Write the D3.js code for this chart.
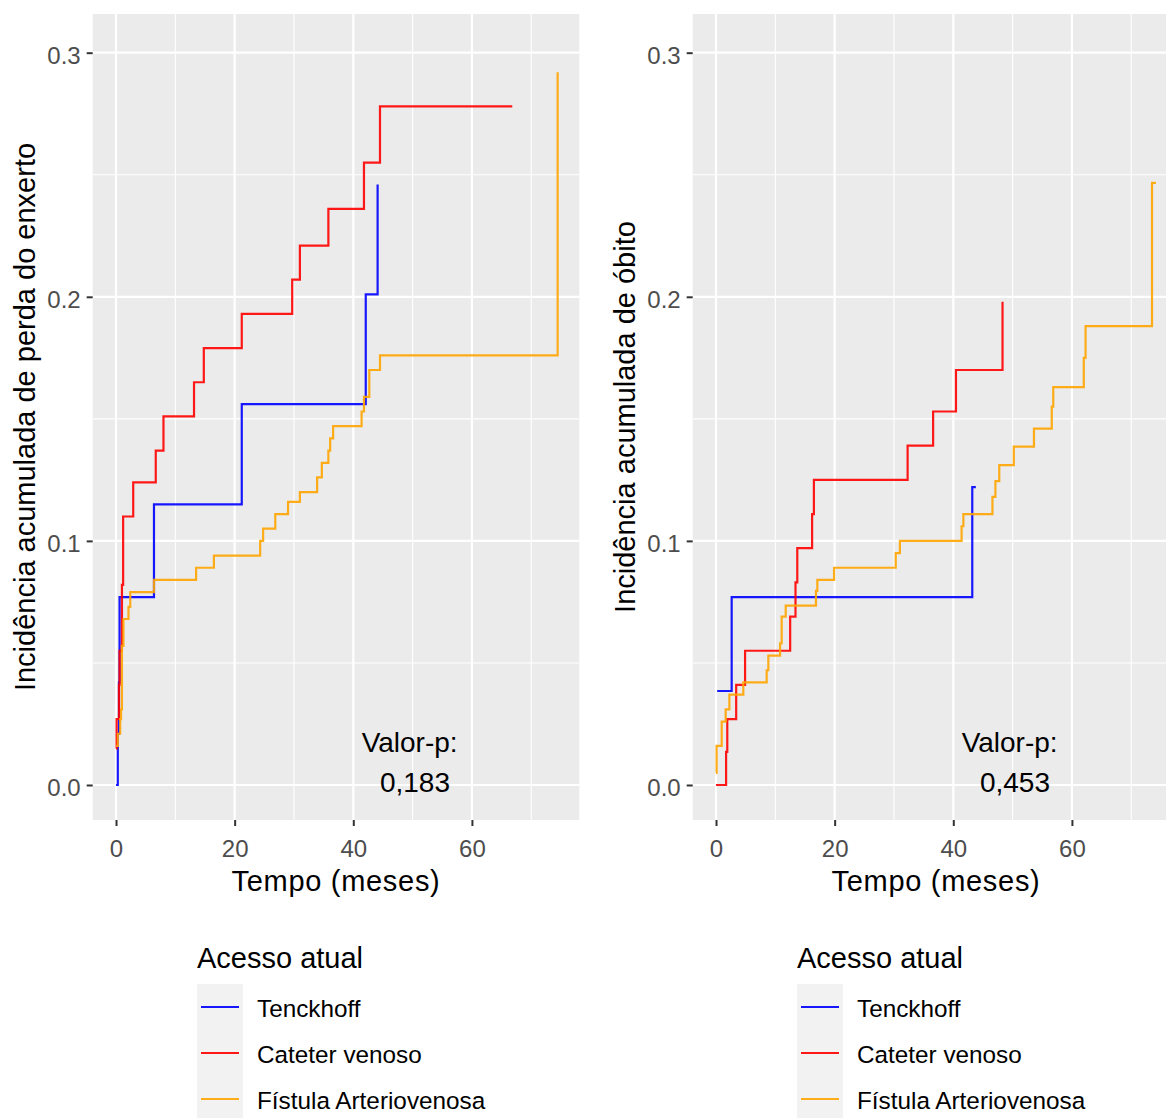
<!DOCTYPE html>
<html>
<head>
<meta charset="utf-8">
<script src="https://cdn.jsdelivr.net/npm/d3@7"></script>
<style>
  body { margin: 0; background: #ffffff; }
  svg { display: block; font-family: "Liberation Sans", Arial, Helvetica, sans-serif; }
</style>
</head>
<body>
<svg id="chart" width="1166" height="1118"></svg>
<script>
// ---- Data: cumulative incidence step curves by current access type ----
const accessGroups = ["Tenckhoff", "Cateter venoso", "Fístula Arteriovenosa"];

// Graft loss (months, cumulative incidence)
const lossTenckhoffTime  = [0, 0.3, 0.5, 0.6, 6.4, 21.2, 42.1, 44.1];
const lossTenckhoffValue = [0, 0.021, 0.042, 0.077, 0.115, 0.156, 0.201, 0.246];

const lossCateterTime  = [0, 0.1, 0.5, 0.6, 0.95, 1.0, 1.2, 2.9, 6.7, 8.0, 13.15, 14.8, 21.2, 29.7, 31.0, 35.8, 41.8, 44.5, 66.8];
const lossCateterValue = [0.015, 0.027, 0.041, 0.055, 0.057, 0.082, 0.110, 0.124, 0.137, 0.151, 0.165, 0.179, 0.193, 0.207, 0.221, 0.236, 0.255, 0.278, 0.278];

const lossFistulaTime  = [0, 0.3, 0.7, 0.85, 1.0, 1.25, 2.1, 2.4, 6.4, 13.5, 16.5, 24.3, 24.8, 26.85, 29.0, 31.0, 33.9, 34.7, 35.8, 36.1, 36.6, 41.4, 41.8, 42.7, 44.5, 74.45];
const lossFistulaValue = [0.016, 0.021, 0.027, 0.031, 0.057, 0.068, 0.073, 0.079, 0.084, 0.089, 0.094, 0.100, 0.105, 0.111, 0.116, 0.120, 0.126, 0.132, 0.137, 0.142, 0.147, 0.153, 0.159, 0.170, 0.176, 0.292];

// Death (months, cumulative incidence)
const deathTenckhoffTime  = [0.2, 2.64, 43.2, 43.8];
const deathTenckhoffValue = [0.0385, 0.077, 0.122, 0.122];

const deathCateterTime  = [0, 1.7, 1.9, 3.4, 4.9, 12.5, 13.4, 13.7, 16.2, 16.5, 32.3, 36.6, 40.45, 48.3];
const deathCateterValue = [0, 0.0136, 0.027, 0.041, 0.055, 0.069, 0.083, 0.097, 0.111, 0.125, 0.139, 0.153, 0.170, 0.198];

const deathFistulaTime  = [0, 0.1, 0.96, 1.63, 2.25, 4.6, 8.54, 8.82, 10.8, 11.07, 11.75, 16.85, 17.08, 19.9, 30.3, 31.0, 41.4, 41.7, 46.6, 47.1, 47.75, 50.2, 53.6, 56.6, 56.85, 62.0, 62.3, 73.5, 74.16];
const deathFistulaValue = [0.005, 0.016, 0.026, 0.031, 0.037, 0.042, 0.047, 0.053, 0.058, 0.069, 0.0735, 0.0795, 0.084, 0.089, 0.095, 0.100, 0.106, 0.111, 0.118, 0.1245, 0.131, 0.1386, 0.146, 0.155, 0.163, 0.175, 0.188, 0.2467, 0.2467];

const xTicks = [0, 20, 40, 60];
const xMinorTicks = [10, 30, 50, 70];
const yTicks = [0, 0.1, 0.2, 0.3];
const yTickLabels = ["0.0", "0.1", "0.2", "0.3"];
const yMinorTicks = [0.05, 0.15, 0.25];
const pValueLabels = ["0,183", "0,453"];

// ---- Styling ----
const groupColors = ["#0000FF", "#FF0000", "#FFA500"];
const TICK_FONT = 24, TITLE_FONT = 29, NOTE_FONT = 28, LEGEND_FONT = 24.3;

const svg = d3.select("#chart");

const pairs = (t, v) => t.map((d, i) => [d, v[i]]);

const panels = [
  {
    left: 92.7,
    yTitle: "Incidência acumulada de perda do enxerto",
    pValue: pValueLabels[0],
    series: [pairs(lossTenckhoffTime, lossTenckhoffValue),
             pairs(lossCateterTime, lossCateterValue),
             pairs(lossFistulaTime, lossFistulaValue)]
  },
  {
    left: 692.7,
    yTitle: "Incidência acumulada de óbito",
    pValue: pValueLabels[1],
    series: [pairs(deathTenckhoffTime, deathTenckhoffValue),
             pairs(deathCateterTime, deathCateterValue),
             pairs(deathFistulaTime, deathFistulaValue)]
  }
];

const panelWidth = 486.6, panelTop = 14, panelBottom = 820;

panels.forEach(p => {
  const x = d3.scaleLinear().domain([-3.93, 78.1]).range([p.left, p.left + panelWidth]);
  const y = d3.scaleLinear().domain([-0.01434, 0.31585]).range([panelBottom, panelTop]);
  const g = svg.append("g");

  // panel background
  g.append("rect")
    .attr("x", p.left).attr("y", panelTop)
    .attr("width", panelWidth).attr("height", panelBottom - panelTop)
    .attr("fill", "#EBEBEB");

  // minor grid
  g.selectAll(null).data(xMinorTicks).join("line")
    .attr("x1", d => x(d)).attr("x2", d => x(d))
    .attr("y1", panelTop).attr("y2", panelBottom)
    .attr("stroke", "#ffffff").attr("stroke-width", 1.1);
  g.selectAll(null).data(yMinorTicks).join("line")
    .attr("y1", d => y(d)).attr("y2", d => y(d))
    .attr("x1", p.left).attr("x2", p.left + panelWidth)
    .attr("stroke", "#ffffff").attr("stroke-width", 1.1);

  // major grid
  g.selectAll(null).data(xTicks).join("line")
    .attr("x1", d => x(d)).attr("x2", d => x(d))
    .attr("y1", panelTop).attr("y2", panelBottom)
    .attr("stroke", "#ffffff").attr("stroke-width", 2.2);
  g.selectAll(null).data(yTicks).join("line")
    .attr("y1", d => y(d)).attr("y2", d => y(d))
    .attr("x1", p.left).attr("x2", p.left + panelWidth)
    .attr("stroke", "#ffffff").attr("stroke-width", 2.2);

  // step curves
  const line = d3.line()
    .x(d => x(d[0])).y(d => y(d[1]))
    .curve(d3.curveStepAfter);
  p.series.forEach((s, i) => {
    g.append("path")
      .attr("d", line(s))
      .attr("fill", "none")
      .attr("stroke", groupColors[i])
      .attr("stroke-width", 2.2)
      .attr("stroke-opacity", 0.9);
  });

  // axes
  const xAxis = d3.axisBottom(x).tickValues(xTicks).tickSize(6).tickPadding(14).tickFormat(d3.format("d"));
  const gx = g.append("g").attr("transform", `translate(0,${panelBottom})`).call(xAxis);
  const yAxis = d3.axisLeft(y).tickValues(yTicks).tickSize(6).tickPadding(6)
    .tickFormat((d, i) => yTickLabels[i]);
  const gy = g.append("g").attr("transform", `translate(${p.left},0)`).call(yAxis);
  [gx, gy].forEach(a => {
    a.select(".domain").remove();
    a.selectAll(".tick line").attr("stroke", "#333333").attr("stroke-width", 2);
    a.selectAll(".tick text").attr("fill", "#4D4D4D").attr("font-size", TICK_FONT)
      .style("font-family", "'Liberation Sans', Arial, sans-serif");
  });
  gx.selectAll(".tick text").attr("dy", "0.71em");
  gy.selectAll(".tick text").attr("dy", "0.44em");

  // axis titles
  g.append("text")
    .attr("x", p.left + panelWidth / 2).attr("y", 891)
    .attr("text-anchor", "middle").attr("font-size", TITLE_FONT).attr("fill", "#000")
    .attr("letter-spacing", 0.7)
    .text("Tempo (meses)");
  g.append("text")
    .attr("transform", `translate(${p.left - 58},${(panelTop + panelBottom) / 2}) rotate(-90)`)
    .attr("text-anchor", "middle").attr("font-size", TITLE_FONT).attr("fill", "#000")
    .text(p.yTitle);

  // p-value note
  g.append("text")
    .attr("x", x(49.5)).attr("y", 751.7)
    .attr("text-anchor", "middle").attr("font-size", NOTE_FONT).attr("fill", "#000")
    .text("Valor-p:");
  g.append("text")
    .attr("x", x(50.4)).attr("y", 792)
    .attr("text-anchor", "middle").attr("font-size", NOTE_FONT).attr("fill", "#000")
    .text(p.pValue);

  // legend
  const lx = p.left + 104.3;
  const lg = svg.append("g");
  lg.append("text")
    .attr("x", lx).attr("y", 968)
    .attr("font-size", TITLE_FONT).attr("fill", "#000")
    .text("Acesso atual");
  const keyH = 46, keyTop = 984;
  accessGroups.forEach((name, i) => {
    const ky = keyTop + i * keyH;
    lg.append("rect")
      .attr("x", lx).attr("y", ky).attr("width", 46).attr("height", keyH)
      .attr("fill", "#F2F2F2");
    lg.append("line")
      .attr("x1", lx + 4).attr("x2", lx + 42)
      .attr("y1", ky + keyH / 2).attr("y2", ky + keyH / 2)
      .attr("stroke", groupColors[i]).attr("stroke-width", 2.2).attr("stroke-opacity", 0.9);
    lg.append("text")
      .attr("x", lx + 60).attr("y", ky + keyH / 2 + 10)
      .attr("font-size", LEGEND_FONT).attr("fill", "#000")
      .text(name);
  });
});
</script>
</body>
</html>
